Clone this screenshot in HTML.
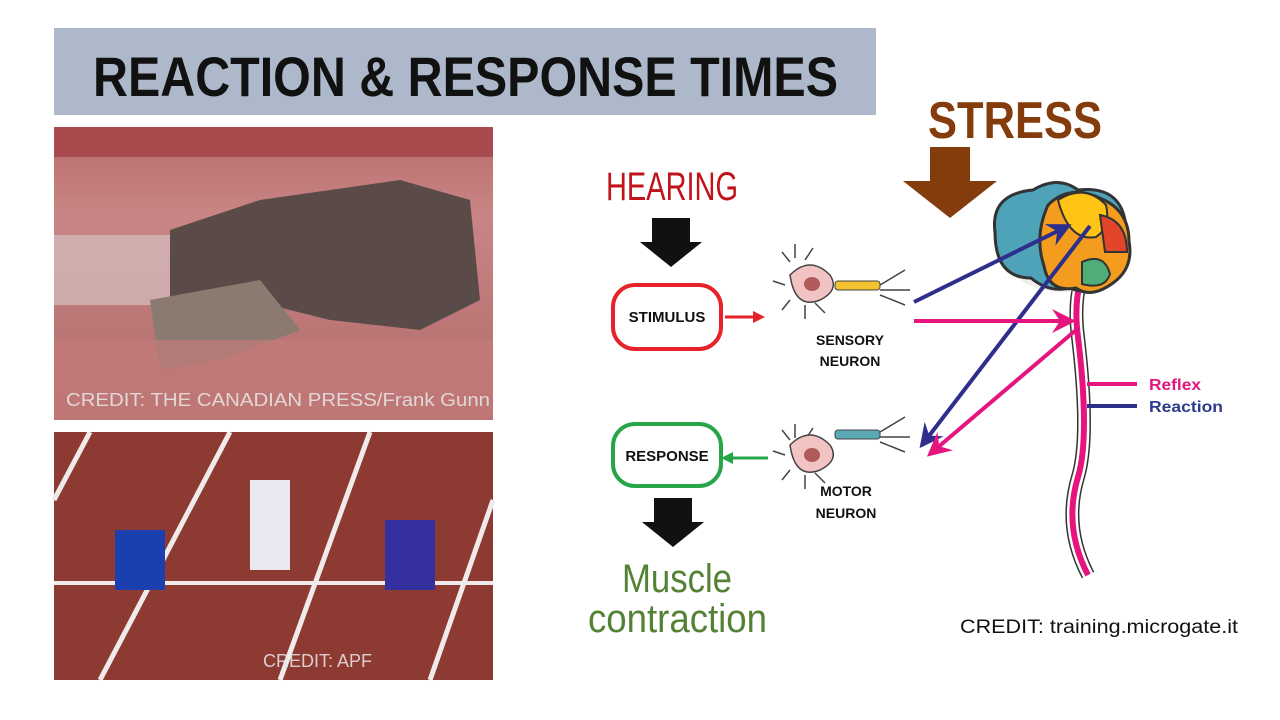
<!DOCTYPE html>
<html><head><meta charset="utf-8"><style>
body{margin:0;width:1280px;height:720px;background:#fff;overflow:hidden;font-family:"Liberation Sans",sans-serif}
svg{position:absolute;left:0;top:0}
</style></head><body>
<svg width="1280" height="720" viewBox="0 0 1280 720">
<defs>
<marker id="ar" markerWidth="4" markerHeight="4" refX="3" refY="2" orient="auto" markerUnits="strokeWidth"><path d="M0,0 L4,2 L0,4 z" fill="#e8222a"/></marker>
<marker id="ag" markerWidth="4" markerHeight="4" refX="1" refY="2" orient="auto" markerUnits="strokeWidth"><path d="M0,0 L4,2 L0,4 z" fill="#27a548"/></marker>
<marker id="ap" markerWidth="6" markerHeight="6" refX="5" refY="3" orient="auto" markerUnits="strokeWidth"><path d="M0,0 L6,3 L0,6 L2,3 z" fill="#e5147f"/></marker>
<marker id="ab" markerWidth="6" markerHeight="6" refX="5" refY="3" orient="auto" markerUnits="strokeWidth"><path d="M0,0 L6,3 L0,6 L2,3 z" fill="#2e2e8c"/></marker>
<linearGradient id="tr" x1="0" y1="0" x2="0" y2="1"><stop offset="0" stop-color="#b86a6a"/><stop offset=".3" stop-color="#c98585"/><stop offset="1" stop-color="#b06a6a"/></linearGradient>
</defs>
<rect x="54" y="28" width="822" height="87" fill="#adb9ca"/>
<text x="93" y="96" font-size="56" font-weight="bold" fill="#111" textLength="745" lengthAdjust="spacingAndGlyphs">REACTION &amp; RESPONSE TIMES</text>
<!-- top photo -->
<rect x="54" y="127" width="439" height="293" fill="url(#tr)"/>
<rect x="54" y="127" width="439" height="30" fill="#a74b4f"/>
<rect x="54" y="235" width="140" height="70" fill="#d9cccc" opacity=".6"/>
<path d="M170 230 L260 200 L330 190 L400 180 L470 200 L480 300 L420 330 L330 320 L250 300 L190 330 L170 300 Z" fill="#5b4b48"/>
<path d="M150 300 L260 280 L300 330 L220 360 L160 370 Z" fill="#8a7a70"/>
<rect x="54" y="340" width="439" height="80" fill="#c47c7a" opacity=".7"/>
<text x="66" y="406" font-size="18" fill="#e8e8e8" opacity=".85" textLength="424" lengthAdjust="spacingAndGlyphs">CREDIT: THE CANADIAN PRESS/Frank Gunn</text>
<!-- bottom photo -->
<rect x="54" y="432" width="439" height="248" fill="#8d3a33"/>
<g stroke="#f0eaea" stroke-width="5">
<line x1="54" y1="500" x2="90" y2="432"/><line x1="100" y1="680" x2="230" y2="432"/>
<line x1="280" y1="680" x2="370" y2="432"/><line x1="430" y1="680" x2="493" y2="500"/>
<line x1="54" y1="583" x2="493" y2="583" stroke-width="4"/>
</g>
<path d="M115 530 h50 v60 h-50 z" fill="#1c3fb0"/><path d="M250 480 h40 v90 h-40 z" fill="#e8e8f0"/><path d="M385 520 h50 v70 h-50 z" fill="#3530a0"/>
<text x="263" y="667" font-size="18" fill="#e8e8e8" opacity=".85">CREDIT: APF</text>
<!-- left diagram -->
<text x="606" y="200" font-size="40" fill="#c0141c" textLength="132" lengthAdjust="spacingAndGlyphs">HEARING</text>
<path d="M652 218 h38 v24 h12 l-31 25 l-31 -25 h12 z" fill="#111"/>
<rect x="613" y="285" width="108" height="64" rx="22" fill="#fff" stroke="#e8222a" stroke-width="4"/>
<text x="667" y="322" text-anchor="middle" font-size="15" font-weight="bold" fill="#111">STIMULUS</text>
<line x1="725" y1="317" x2="762" y2="317" stroke="#e8222a" stroke-width="3" marker-end="url(#ar)"/>
<rect x="613" y="424" width="108" height="62" rx="22" fill="#fff" stroke="#27a548" stroke-width="4"/>
<text x="667" y="461" text-anchor="middle" font-size="15" font-weight="bold" fill="#111">RESPONSE</text>
<line x1="768" y1="458" x2="730" y2="458" stroke="#27a548" stroke-width="3" marker-end="url(#ag)"/>
<path d="M654 498 h38 v24 h12 l-31 25 l-31 -25 h12 z" fill="#111"/>
<text x="622" y="592" font-size="40" fill="#548235" textLength="110" lengthAdjust="spacingAndGlyphs">Muscle</text>
<text x="588" y="632" font-size="40" fill="#548235" textLength="179" lengthAdjust="spacingAndGlyphs">contraction</text>
<!-- stress -->
<text x="928" y="138" font-size="52" font-weight="bold" fill="#843c0c" textLength="174" lengthAdjust="spacingAndGlyphs">STRESS</text>
<path d="M930 147 h40 v34 h27 l-47 37 l-47 -37 h27 z" fill="#843c0c"/>
<!-- neurons -->
<g stroke="#444" stroke-width="1.5" fill="none">
<path d="M790 262 l-8 -10 M795 258 l0 -14 M805 260 l8 -12 M785 285 l-12 -4 M790 300 l-8 10 M805 305 l0 14 M815 303 l10 10 M880 285 l25 -15 M880 295 l25 10 M880 290 l30 0"/>
<path d="M790 440 l-8 -10 M795 438 l0 -14 M805 440 l8 -12 M785 455 l-12 -4 M790 470 l-8 10 M805 475 l0 14 M815 473 l10 10 M880 432 l25 -15 M880 442 l25 10 M880 437 l30 0"/>
</g>
<path d="M790 275 q20 -20 40 0 q10 15 -10 25 q-25 10 -30 -25z" fill="#f2c3c3" stroke="#444" stroke-width="1.5"/>
<ellipse cx="812" cy="284" rx="8" ry="7" fill="#b05a5a"/>
<rect x="835" y="281" width="45" height="9" rx="3" fill="#f2c230" stroke="#444"/>
<path d="M790 445 q20 -20 40 0 q10 15 -10 25 q-25 10 -30 -25z" fill="#f2c3c3" stroke="#444" stroke-width="1.5"/>
<ellipse cx="812" cy="455" rx="8" ry="7" fill="#b05a5a"/>
<rect x="835" y="430" width="45" height="9" rx="3" fill="#5aa9b5" stroke="#444"/>
<text x="850" y="345" text-anchor="middle" font-size="14" font-weight="bold" fill="#111">SENSORY</text>
<text x="850" y="366" text-anchor="middle" font-size="14" font-weight="bold" fill="#111">NEURON</text>
<text x="846" y="496" text-anchor="middle" font-size="14" font-weight="bold" fill="#111">MOTOR</text>
<text x="846" y="518" text-anchor="middle" font-size="14" font-weight="bold" fill="#111">NEURON</text>
<!-- spinal cord -->
<path d="M1080 282 q-6 25 -2 55 q12 100 0 140 q-15 50 10 98" fill="none" stroke="#333" stroke-width="14"/>
<path d="M1080 282 q-6 25 -2 55 q12 100 0 140 q-15 50 10 98" fill="none" stroke="#fff" stroke-width="11"/>
<path d="M1080 282 q-6 25 -2 55 q12 100 0 140 q-15 50 10 98" fill="none" stroke="#e5147f" stroke-width="6"/>
<!-- brain -->
<ellipse cx="1062" cy="240" rx="66" ry="52" fill="#ddd" opacity=".5"/>
<path d="M995 232 q-5 -38 38 -42 q25 -15 45 0 q45 -5 48 38 q8 30 -15 50 q-15 20 -42 10 q-20 5 -38 -10 q-36 0 -36 -46z" fill="#4fa3b8" stroke="#333" stroke-width="3"/>
<path d="M1048 205 q22 -22 54 -6 q27 12 27 42 q5 27 -16 42 q-22 16 -37 5 q-27 5 -32 -22 q-10 -30 4 -61z" fill="#f39c1e" stroke="#333" stroke-width="3"/>
<path d="M1058 200 q27 -17 48 5 q5 22 -10 32 q-27 5 -38 -37z" fill="#ffc415" stroke="#333" stroke-width="2"/>
<path d="M1100 215 q27 5 27 37 l-22 0z" fill="#e3452a" stroke="#333" stroke-width="2"/>
<path d="M1082 262 q22 -10 28 12 q-5 16 -28 10z" fill="#4fae78" stroke="#333" stroke-width="2"/>
<!-- arrows -->
<line x1="914" y1="302" x2="1068" y2="226" stroke="#2e2e8c" stroke-width="4" marker-end="url(#ab)"/>
<line x1="1090" y1="226" x2="922" y2="445" stroke="#2e2e8c" stroke-width="4" marker-end="url(#ab)"/>
<line x1="914" y1="321" x2="1072" y2="321" stroke="#e5147f" stroke-width="4" marker-end="url(#ap)"/>
<line x1="1076" y1="330" x2="930" y2="454" stroke="#e5147f" stroke-width="4" marker-end="url(#ap)"/>
<line x1="1087" y1="384" x2="1137" y2="384" stroke="#e5147f" stroke-width="4"/>
<line x1="1087" y1="406" x2="1137" y2="406" stroke="#2e2e8c" stroke-width="4"/>
<text x="1149" y="390" font-size="16" font-weight="bold" fill="#e5147f" textLength="52" lengthAdjust="spacingAndGlyphs">Reflex</text>
<text x="1149" y="412" font-size="16" font-weight="bold" fill="#2e3a8c" textLength="74" lengthAdjust="spacingAndGlyphs">Reaction</text>
<text x="960" y="633" font-size="19" fill="#111" textLength="278" lengthAdjust="spacingAndGlyphs">CREDIT: training.microgate.it</text>
</svg>
</body></html>
